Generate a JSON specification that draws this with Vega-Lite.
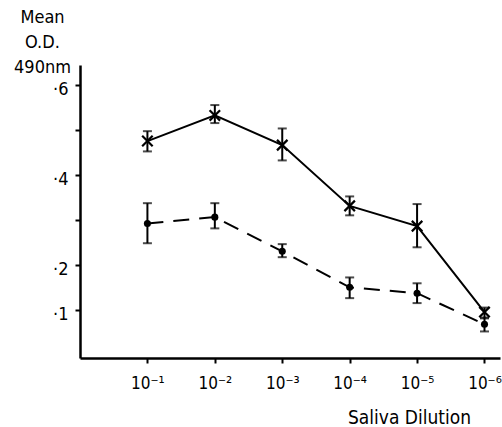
{
  "$schema": "https://vega.github.io/schema/vega-lite/v6.json",
  "width": 420,
  "height": 293,
  "autosize": {"type": "none"},
  "padding": {"left": 80, "top": 65, "right": 2, "bottom": 69},
  "background": "white",
  "config": {
    "view": {"stroke": null},
    "font": "DejaVu Sans Condensed, Liberation Sans Narrow, DejaVu Sans",
    "axis": {
      "grid": false,
      "domainColor": "black",
      "domainWidth": 2.5,
      "tickColor": "black",
      "tickWidth": 2,
      "labelColor": "black",
      "titleColor": "black",
      "labelFont": "DejaVu Sans Condensed, Liberation Sans Narrow, DejaVu Sans",
      "titleFont": "DejaVu Sans Condensed, Liberation Sans Narrow, DejaVu Sans",
      "labelFontWeight": "normal",
      "titleFontWeight": "normal"
    }
  },
  "data": {
    "values": [
      {"d": 1, "series": "A", "mean": 0.476, "lo": 0.453, "hi": 0.498},
      {"d": 2, "series": "A", "mean": 0.533, "lo": 0.516, "hi": 0.556},
      {"d": 3, "series": "A", "mean": 0.467, "lo": 0.433, "hi": 0.504},
      {"d": 4, "series": "A", "mean": 0.332, "lo": 0.311, "hi": 0.353},
      {"d": 5, "series": "A", "mean": 0.287, "lo": 0.240, "hi": 0.336},
      {"d": 6, "series": "A", "mean": 0.096, "lo": 0.082, "hi": 0.106},
      {"d": 1, "series": "B", "mean": 0.293, "lo": 0.249, "hi": 0.338},
      {"d": 2, "series": "B", "mean": 0.307, "lo": 0.282, "hi": 0.338},
      {"d": 3, "series": "B", "mean": 0.231, "lo": 0.218, "hi": 0.247},
      {"d": 4, "series": "B", "mean": 0.151, "lo": 0.127, "hi": 0.173},
      {"d": 5, "series": "B", "mean": 0.138, "lo": 0.116, "hi": 0.160},
      {"d": 6, "series": "B", "mean": 0.069, "lo": 0.053, "hi": 0.084}
    ]
  },
  "encoding": {
    "x": {
      "field": "d",
      "type": "quantitative",
      "scale": {"domain": [0, 6.23], "nice": false, "zero": false},
      "axis": {
        "values": [1, 2, 3, 4, 5, 6],
        "labelExpr": "'10' + ['', '⁻¹', '⁻²', '⁻³', '⁻⁴', '⁻⁵', '⁻⁶'][datum.value]",
        "tickSize": 5,
        "labelPadding": 12,
        "labelFontSize": 17,
        "labelFlush": false,
        "title": "Saliva Dilution",
        "titleFontSize": 19,
        "titleAnchor": "start",
        "titleAlign": "center",
        "titleBaseline": "middle",
        "titleX": 329,
        "titleY": 59
      }
    }
  },
  "layer": [
    {
      "transform": [{"filter": "datum.series == 'A'"}],
      "mark": {"type": "line", "color": "black", "strokeWidth": 2},
      "encoding": {
        "y": {
          "field": "mean",
          "type": "quantitative",
          "scale": {"domain": [-0.006, 0.645], "nice": false, "zero": false},
          "axis": {
            "values": [0.1, 0.2, 0.3, 0.4, 0.5, 0.6],
            "labelExpr": "datum.value == 0.3 || datum.value == 0.5 ? '' : '·' + round(datum.value * 10)",
            "tickSize": 5,
            "labelPadding": 7,
            "labelOffset": 4,
            "labelFontSize": 18,
            "title": ["Mean", "O.D.", "490nm"],
            "titleFontSize": 18,
            "titleLineHeight": 25,
            "titleAngle": 0,
            "titleAlign": "center",
            "titleBaseline": "top",
            "titleX": -38,
            "titleY": -57
          }
        }
      }
    },
    {
      "transform": [{"filter": "datum.series == 'B'"}],
      "mark": {"type": "line", "color": "black", "strokeWidth": 2, "strokeDash": [16, 10]},
      "encoding": {"y": {"field": "mean", "type": "quantitative"}}
    },
    {
      "mark": {"type": "rule", "color": "black", "strokeWidth": 2},
      "encoding": {
        "y": {"field": "lo", "type": "quantitative"},
        "y2": {"field": "hi"}
      }
    },
    {
      "mark": {"type": "tick", "color": "black", "orient": "horizontal", "size": 9, "thickness": 2},
      "encoding": {"y": {"field": "lo", "type": "quantitative"}}
    },
    {
      "mark": {"type": "tick", "color": "black", "orient": "horizontal", "size": 9, "thickness": 2},
      "encoding": {"y": {"field": "hi", "type": "quantitative"}}
    },
    {
      "transform": [{"filter": "datum.series == 'A'"}],
      "mark": {"type": "point", "shape": "M-1,-1L1,1M1,-1L-1,1", "filled": false, "color": "black", "strokeWidth": 2.2, "size": 110, "opacity": 1},
      "encoding": {"y": {"field": "mean", "type": "quantitative"}}
    },
    {
      "transform": [{"filter": "datum.series == 'B'"}],
      "mark": {"type": "point", "shape": "circle", "filled": true, "color": "black", "size": 50, "opacity": 1},
      "encoding": {"y": {"field": "mean", "type": "quantitative"}}
    }
  ]
}
